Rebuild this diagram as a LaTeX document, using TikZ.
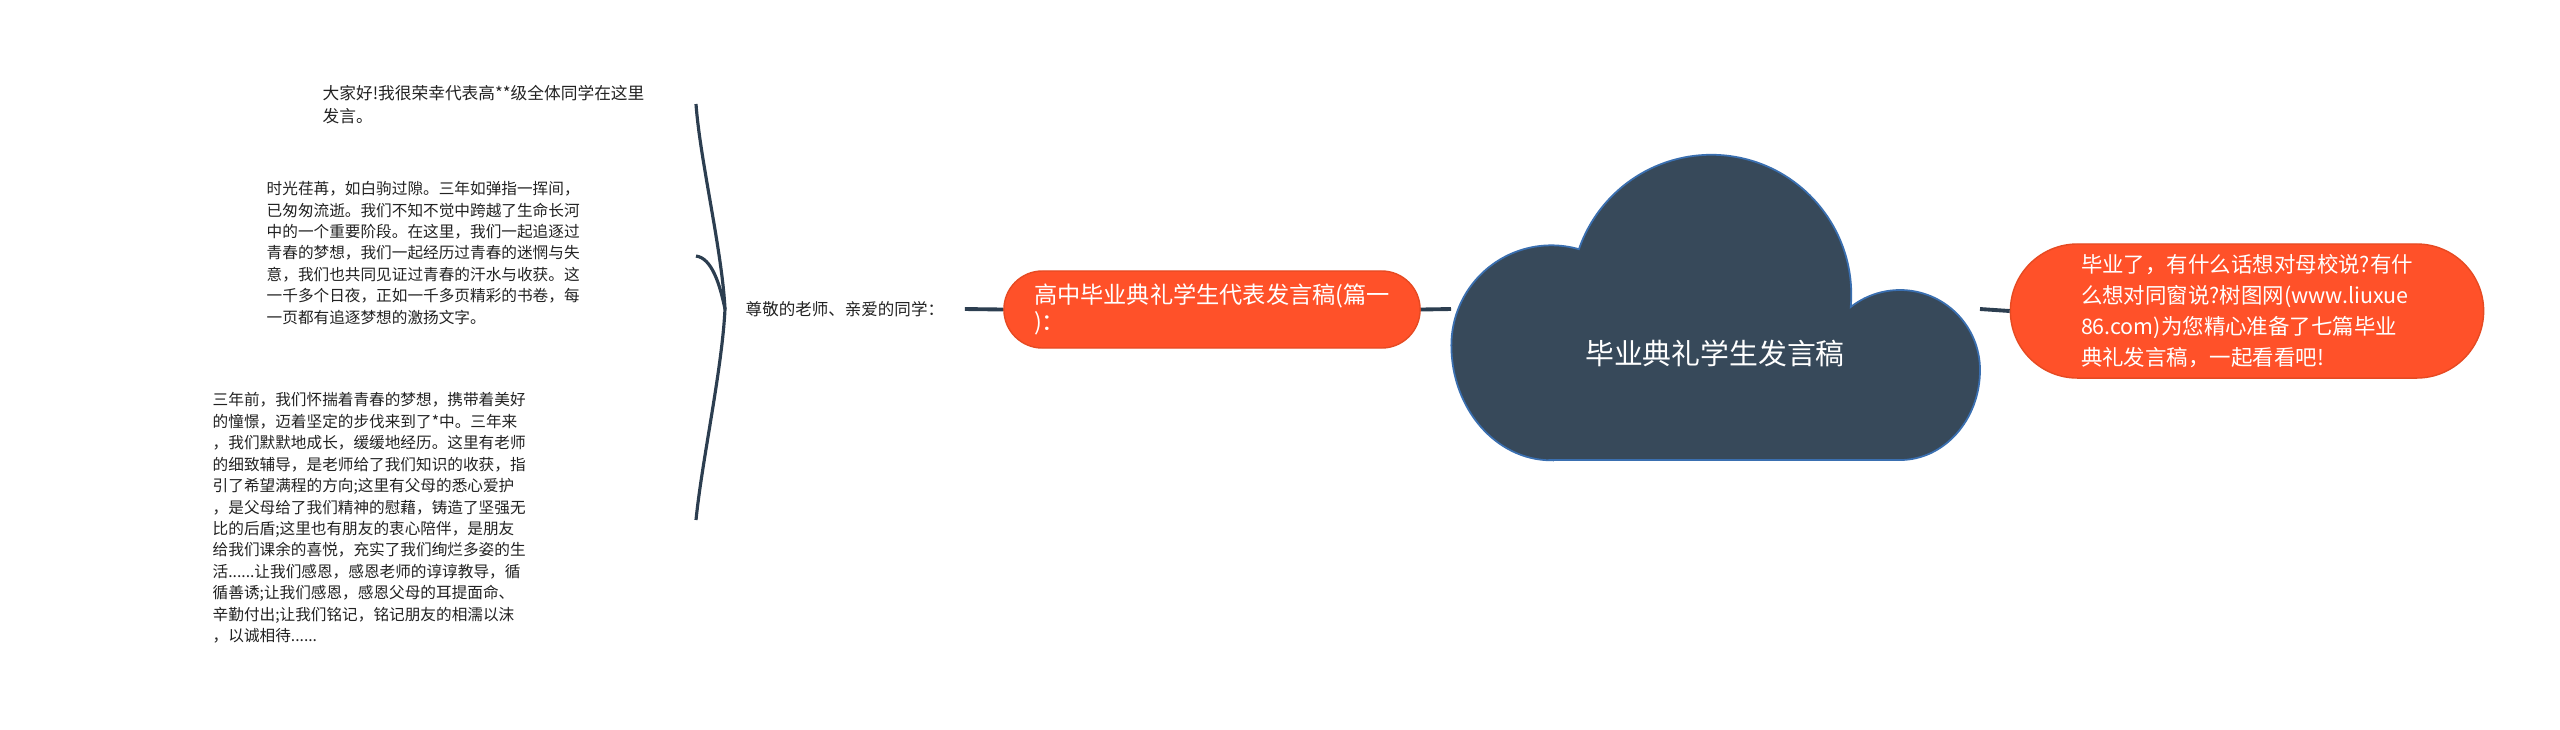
\documentclass[tikz,border=0pt]{standalone}
\usepackage{fontspec}
\setmainfont{Noto Sans CJK SC}

\definecolor{navy}{HTML}{2C3E50}
\definecolor{cloudfill}{HTML}{37495A}
\definecolor{cloudline}{HTML}{3A6FB0}
\definecolor{tomato}{HTML}{FF5129}
\definecolor{tomatoline}{HTML}{E64A22}
\definecolor{ink}{HTML}{222222}

\begin{document}
\begin{tikzpicture}[x=0.01cm, y=0.01cm,
  note/.style={anchor=west, inner sep=0pt, align=left, text=ink, font=\fontsize{4.45}{6.1}\selectfont},
  pill/.style={fill=tomato, draw=tomatoline, line width=0.4pt, text=white, align=left, inner sep=0pt},
  link/.style={draw=navy, line width=1.1pt},
  branch/.style={draw=navy, line width=0.9pt}]
  \useasboundingbox (0,0) rectangle (2560,-729);

  \draw[fill=cloudfill, draw=cloudline, line width=0.5pt] (1551,-460) -- (1900,-460)
    arc[start angle=-90, end angle=0, x radius=80, y radius=90]
    arc[start angle=0, end angle=128, radius=80]
    arc[start angle=-5, end angle=161, radius=140]
    arc[start angle=74, end angle=180, radius=100]
    arc[start angle=180, end angle=270, x radius=100, y radius=115] -- cycle;
  \node[text=white, font=\fontsize{8.2}{10}\selectfont] (root) at (1715,-353) {毕业典礼学生发言稿};
  \coordinate (rootW) at (1451,-309);
  \coordinate (rootE) at (1980,-309);

  \node[pill, minimum width=4.16cm, minimum height=0.77cm, rounded corners=0.385cm,
    font=\fontsize{6.6}{7.7}\selectfont] (topic) at (1212,-309.5)
    {高中毕业典礼学生代表发言稿(篇一\\)：};
  \node[pill, minimum width=4.73cm, minimum height=1.34cm, rounded corners=0.67cm,
    font=\fontsize{6.1}{8.8}\selectfont] (intro) at (2247,-311)
    {毕业了，有什么话想对母校说?有什\\么想对同窗说?树图网(www.liuxue\\86.com)为您精心准备了七篇毕业\\典礼发言稿，一起看看吧!};

  \node[anchor=west, inner xsep=0.2cm, inner ysep=0pt, text=ink, font=\fontsize{4.7}{6}\selectfont] (greet) at (725,-309)
    {尊敬的老师、亲爱的同学：};

  \node[note, font=\fontsize{4.75}{6.5}\selectfont] (hello) at (322,-105) {大家好!我很荣幸代表高**级全体同学在这里\\发言。};
  \node[note] (time) at (266,-253) {时光荏苒，如白驹过隙。三年如弹指一挥间，\\已匆匆流逝。我们不知不觉中跨越了生命长河\\中的一个重要阶段。在这里，我们一起追逐过\\青春的梦想，我们一起经历过青春的迷惘与失\\意，我们也共同见证过青春的汗水与收获。这\\一千多个日夜，正如一千多页精彩的书卷，每\\一页都有追逐梦想的激扬文字。};
  \node[note] (past) at (212,-518) {三年前，我们怀揣着青春的梦想，携带着美好\\的憧憬，迈着坚定的步伐来到了*中。三年来\\，我们默默地成长，缓缓地经历。这里有老师\\的细致辅导，是老师给了我们知识的收获，指\\引了希望满程的方向;这里有父母的悉心爱护\\，是父母给了我们精神的慰藉，铸造了坚强无\\比的后盾;这里也有朋友的衷心陪伴，是朋友\\给我们课余的喜悦，充实了我们绚烂多姿的生\\活......让我们感恩，感恩老师的谆谆教导，循\\循善诱;让我们感恩，感恩父母的耳提面命、\\辛勤付出;让我们铭记，铭记朋友的相濡以沫\\，以诚相待......};
  \coordinate (helloE) at (696,-104);
  \coordinate (timeE) at (696,-256);
  \coordinate (pastE) at (696,-520);

  \draw[link] (greet.east) -- (topic.west);
  \draw[link] (topic.east) -- (rootW);
  \draw[link] (rootE) -- (intro.west);
  \draw[branch] (greet.west) .. controls (722,-250) and (700,-160) .. (helloE);
  \draw[branch] (greet.west) .. controls (720,-285) and (712,-258) .. (timeE);
  \draw[branch] (greet.west) .. controls (722,-370) and (702,-460) .. (pastE);
\end{tikzpicture}
\end{document}
